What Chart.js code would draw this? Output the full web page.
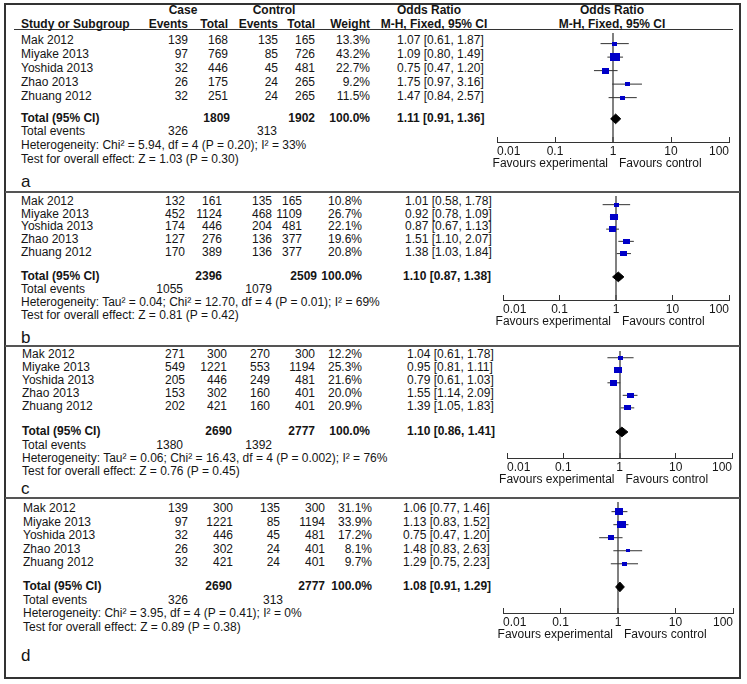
<!DOCTYPE html>
<html><head><meta charset="utf-8">
<script src="https://cdn.jsdelivr.net/npm/chart.js@4.4.1/dist/chart.umd.min.js"></script>
<style>
html,body{margin:0;padding:0;background:#fff;}
#root{position:relative;width:747px;height:684px;overflow:hidden;font-family:"Liberation Sans",Arial,sans-serif;color:#151515;}
.t{position:absolute;font-size:12px;line-height:14px;white-space:nowrap;}
.b{font-weight:bold;}
.L{font-size:17px;line-height:20px;}
canvas{position:absolute;}
.hl{position:absolute;}
</style></head><body><div id="root"></div>
<script>
// ---------- DATA ----------
const studies = ['Mak 2012','Miyake 2013','Yoshida 2013','Zhao 2013','Zhuang 2012'];
const panelLetters = ['a','b','c','d'];
const caseEvents = [[139,97,32,26,32],[132,452,174,127,170],[271,549,205,153,202],[139,97,32,26,32]];
const caseTotal  = [[168,769,446,175,251],[161,1124,446,276,389],[300,1221,446,302,421],[300,1221,446,302,421]];
const ctrlEvents = [[135,85,45,24,24],[135,468,204,136,136],[270,553,249,160,160],[135,85,45,24,24]];
const ctrlTotal  = [[165,726,481,265,265],[165,1109,481,377,377],[300,1194,481,401,401],[300,1194,481,401,401]];
const weights    = [[13.3,43.2,22.7,9.2,11.5],[10.8,26.7,22.1,19.6,20.8],[12.2,25.3,21.6,20.0,20.9],[31.1,33.9,17.2,8.1,9.7]];
const oddsRatio  = [[1.07,1.09,0.75,1.75,1.47],[1.01,0.92,0.87,1.51,1.38],[1.04,0.95,0.79,1.55,1.39],[1.06,1.13,0.75,1.48,1.29]];
const ciLow      = [[0.61,0.80,0.47,0.97,0.84],[0.58,0.78,0.67,1.10,1.03],[0.61,0.81,0.61,1.14,1.05],[0.77,0.83,0.47,0.83,0.75]];
const ciHigh     = [[1.87,1.49,1.20,3.16,2.57],[1.78,1.09,1.13,2.07,1.84],[1.78,1.11,1.03,2.09,1.83],[1.46,1.52,1.20,2.63,2.23]];
const totalCase  = [1809,2396,2690,2690];
const totalCtrl  = [1902,2509,2777,2777];
const totalWeight = [100.0,100.0,100.0,100.0];
const pooledOR   = [1.11,1.10,1.10,1.08];
const pooledLow  = [0.91,0.87,0.86,0.91];
const pooledHigh = [1.36,1.38,1.41,1.29];
const eventsCase = [326,1055,1380,326];
const eventsCtrl = [313,1079,1392,313];
const heterogeneity = [
  'Heterogeneity: Chi² = 5.94, df = 4 (P = 0.20); I² = 33%',
  'Heterogeneity: Tau² = 0.04; Chi² = 12.70, df = 4 (P = 0.01); I² = 69%',
  'Heterogeneity: Tau² = 0.06; Chi² = 16.43, df = 4 (P = 0.002); I² = 76%',
  'Heterogeneity: Chi² = 3.95, df = 4 (P = 0.41); I² = 0%'
];
const overallEffect = [
  'Test for overall effect: Z = 1.03 (P = 0.30)',
  'Test for overall effect: Z = 0.81 (P = 0.42)',
  'Test for overall effect: Z = 0.76 (P = 0.45)',
  'Test for overall effect: Z = 0.89 (P = 0.38)'
];
const tickLabels = ['0.01','0.1','1','10','100'];

// ---------- LAYOUT (positions / styles only) ----------
const W = 747;
const CANVAS_LEFT = 470, CANVAS_W = 275, AXIS_H = 34;
const layout = [
  {nameX:21, cols:[188,228,278,315,370], totCols:[230,315,370], evCols:[188,277], orX:397, orTX:397,
   row0:40, step:14, totalY:118, evY:131, hetY:145, testY:159, letterY:182, lineTop:29, axisY:142, x0:497, x1:729},
  {nameX:21, cols:[185,222,272,302,362], totCols:[222,317,362], evCols:[183,272], orX:405, orTX:403,
   row0:201, step:12.7, totalY:276, evY:289, hetY:302, testY:315, letterY:338, lineTop:192, axisY:300, x0:503, x1:729},
  {nameX:22, cols:[185,227,270,315,362], totCols:[232,315,370], evCols:[183,272], orX:407, orTX:407,
   row0:354, step:13, totalY:431, evY:445, hetY:458, testY:471, letterY:489, lineTop:347, axisY:458, x0:507, x1:732},
  {nameX:23, cols:[188,233,280,325,372], totCols:[232,325,372], evCols:[188,283], orX:403, orTX:403,
   row0:508, step:13.5, totalY:586, evY:600, hetY:613, testY:627, letterY:656, lineTop:498, axisY:613, x0:503, x1:733}
];
const SQ_W = 1.5, SQ_H = 1.2, DIAMOND_HALF = 5; // px
const MARK_COLOR = '#0000c8', CI_COLOR = '#333', REF_COLOR = '#808080';

const root = document.getElementById('root');
function T(x, y, s, align, cls) {
  const d = document.createElement('div');
  d.className = 't' + (cls ? ' ' + cls : '');
  d.textContent = s;
  d.style.top = (y - 7) + 'px';
  if (align === 'right') d.style.right = (W - x) + 'px';
  else if (align === 'center') { d.style.left = x + 'px'; d.style.transform = 'translateX(-50%)'; }
  else d.style.left = x + 'px';
  root.appendChild(d);
  return d;
}
function HL(x, y, w, h, color) {
  const d = document.createElement('div');
  d.className = 'hl';
  Object.assign(d.style, {left:x+'px', top:y+'px', width:w+'px', height:h+'px', background:color});
  root.appendChild(d);
}
const fmt2 = v => v.toFixed(2);
const orText = (o, l, h) => fmt2(o) + ' [' + fmt2(l) + ', ' + fmt2(h) + ']';

// frame
const frame = document.createElement('div');
Object.assign(frame.style, {position:'absolute', left:'4px', top:'3px', width:'737px', height:'676px', border:'2px solid #333', boxSizing:'border-box'});
root.appendChild(frame);
HL(14, 29, 719, 1, '#333');
HL(5, 191, 735, 2, '#555');
HL(5, 345, 735, 2, '#555');
HL(5, 497, 735, 2, '#555');

// headers
T(183, 10, 'Case', 'center', 'b');
T(274, 10, 'Control', 'center', 'b');
T(21, 24, 'Study or Subgroup', 'left', 'b');
T(188, 24, 'Events', 'right', 'b');
T(228, 24, 'Total', 'right', 'b');
T(278, 24, 'Events', 'right', 'b');
T(315, 24, 'Total', 'right', 'b');
T(370, 24, 'Weight', 'right', 'b');
T(429, 10, 'Odds Ratio', 'center', 'b');
T(434, 24, 'M-H, Fixed, 95% CI', 'center', 'b');
T(612, 10, 'Odds Ratio', 'center', 'b');
T(612, 24, 'M-H, Fixed, 95% CI', 'center', 'b');

// squares as images sized from weights
function squareImg(w) {
  const c = document.createElement('canvas');
  c.width = Math.max(3, Math.round(SQ_W * Math.sqrt(w)));
  c.height = Math.max(3, Math.round(SQ_H * Math.sqrt(w)));
  const g = c.getContext('2d');
  g.fillStyle = MARK_COLOR;
  g.fillRect(0, 0, c.width, c.height);
  return c;
}

layout.forEach((L, p) => {
  // table text
  studies.forEach((s, i) => {
    const y = L.row0 + i * L.step;
    T(L.nameX, y, s);
    T(L.cols[0], y, String(caseEvents[p][i]), 'right');
    T(L.cols[1], y, String(caseTotal[p][i]), 'right');
    T(L.cols[2], y, String(ctrlEvents[p][i]), 'right');
    T(L.cols[3], y, String(ctrlTotal[p][i]), 'right');
    T(L.cols[4], y, weights[p][i].toFixed(1) + '%', 'right');
    T(L.orX, y, orText(oddsRatio[p][i], ciLow[p][i], ciHigh[p][i]));
  });
  T(L.nameX, L.totalY, 'Total (95% CI)', 'left', 'b');
  T(L.totCols[0], L.totalY, String(totalCase[p]), 'right', 'b');
  T(L.totCols[1], L.totalY, String(totalCtrl[p]), 'right', 'b');
  T(L.totCols[2], L.totalY, totalWeight[p].toFixed(1) + '%', 'right', 'b');
  T(L.orTX, L.totalY, orText(pooledOR[p], pooledLow[p], pooledHigh[p]), 'left', 'b');
  T(L.nameX, L.evY, 'Total events');
  T(L.evCols[0], L.evY, String(eventsCase[p]), 'right');
  T(L.evCols[1], L.evY, String(eventsCtrl[p]), 'right');
  T(L.nameX, L.hetY, heterogeneity[p]);
  T(L.nameX, L.testY, overallEffect[p]);
  const lt = T(21, L.letterY, panelLetters[p], 'left', 'L');
  lt.style.top = (L.letterY - 10) + 'px';

  // chart
  const cv = document.createElement('canvas');
  const h = L.axisY - L.lineTop + AXIS_H;
  cv.width = CANVAS_W; cv.height = h;
  cv.style.left = CANVAS_LEFT + 'px'; cv.style.top = L.lineTop + 'px';
  cv.style.width = CANVAS_W + 'px'; cv.style.height = h + 'px';
  root.appendChild(cv);

  const totalIdx = (L.totalY - L.row0) / L.step;
  const dHalf = DIAMOND_HALF / L.step;
  const ciData = [];
  oddsRatio[p].forEach((o, i) => {
    ciData.push({x: ciLow[p][i], y: i}, {x: ciHigh[p][i], y: i}, {x: null, y: null});
  });
  const sq = weights[p].map(squareImg);

  const chart = new Chart(cv, {
    type: 'line',
    data: {
      datasets: [
        { label: 'Study OR', data: oddsRatio[p].map((o, i) => ({x: o, y: i})), showLine: false,
          pointStyle: ctx => sq[ctx.dataIndex], pointRadius: 3, borderWidth: 0 },
        { label: '95% CI', data: ciData, showLine: true, spanGaps: false, borderColor: CI_COLOR,
          borderWidth: 1, pointRadius: 0, fill: false },
        { label: 'Total', data: [
            {x: pooledLow[p], y: totalIdx}, {x: pooledOR[p], y: totalIdx - dHalf},
            {x: pooledHigh[p], y: totalIdx}, {x: pooledOR[p], y: totalIdx + dHalf},
            {x: pooledLow[p], y: totalIdx}],
          showLine: true, borderColor: '#000', backgroundColor: '#000', borderWidth: 1,
          pointRadius: 0, fill: 'shape' }
      ]
    },
    options: {
      responsive: false, maintainAspectRatio: false, animation: false, devicePixelRatio: 1,
      events: [],
      layout: { padding: { left: L.x0 - CANVAS_LEFT, right: CANVAS_LEFT + CANVAS_W - L.x1, top: 0, bottom: 0 } },
      plugins: { legend: { display: false }, tooltip: { enabled: false }, title: { display: false } },
      scales: {
        x: {
          type: 'logarithmic',
          min: Number(tickLabels[0]), max: Number(tickLabels[tickLabels.length - 1]),
          afterBuildTicks: s => { s.ticks = tickLabels.map(v => ({value: Number(v)})); },
          afterFit: s => { s.height = AXIS_H; },
          ticks: { align: 'inner', padding: 7, autoSkip: false, maxRotation: 0, color: '#151515',
                   font: { size: 12, family: 'Liberation Sans' },
                   callback: (v, i) => tickLabels[i] },
          grid: { drawTicks: true, tickLength: -5, tickColor: '#333', tickWidth: 1,
                  drawOnChartArea: true,
                  color: c => (c.tick && c.tick.value === 1) ? REF_COLOR : 'rgba(0,0,0,0)',
                  lineWidth: c => (c.tick && c.tick.value === 1) ? 2 : 1 },
          border: { display: true, color: '#333', width: 1 }
        },
        y: { type: 'linear', display: false, reverse: true,
             min: (L.lineTop - L.row0) / L.step, max: (L.axisY - L.row0) / L.step }
      }
    }
  });
  const one = chart.scales.x.getPixelForValue(1) + CANVAS_LEFT;
  T(one - 5, L.axisY + 21, 'Favours experimental', 'right');
  T(one + 6, L.axisY + 21, 'Favours control', 'left');
});
</script></body></html>
